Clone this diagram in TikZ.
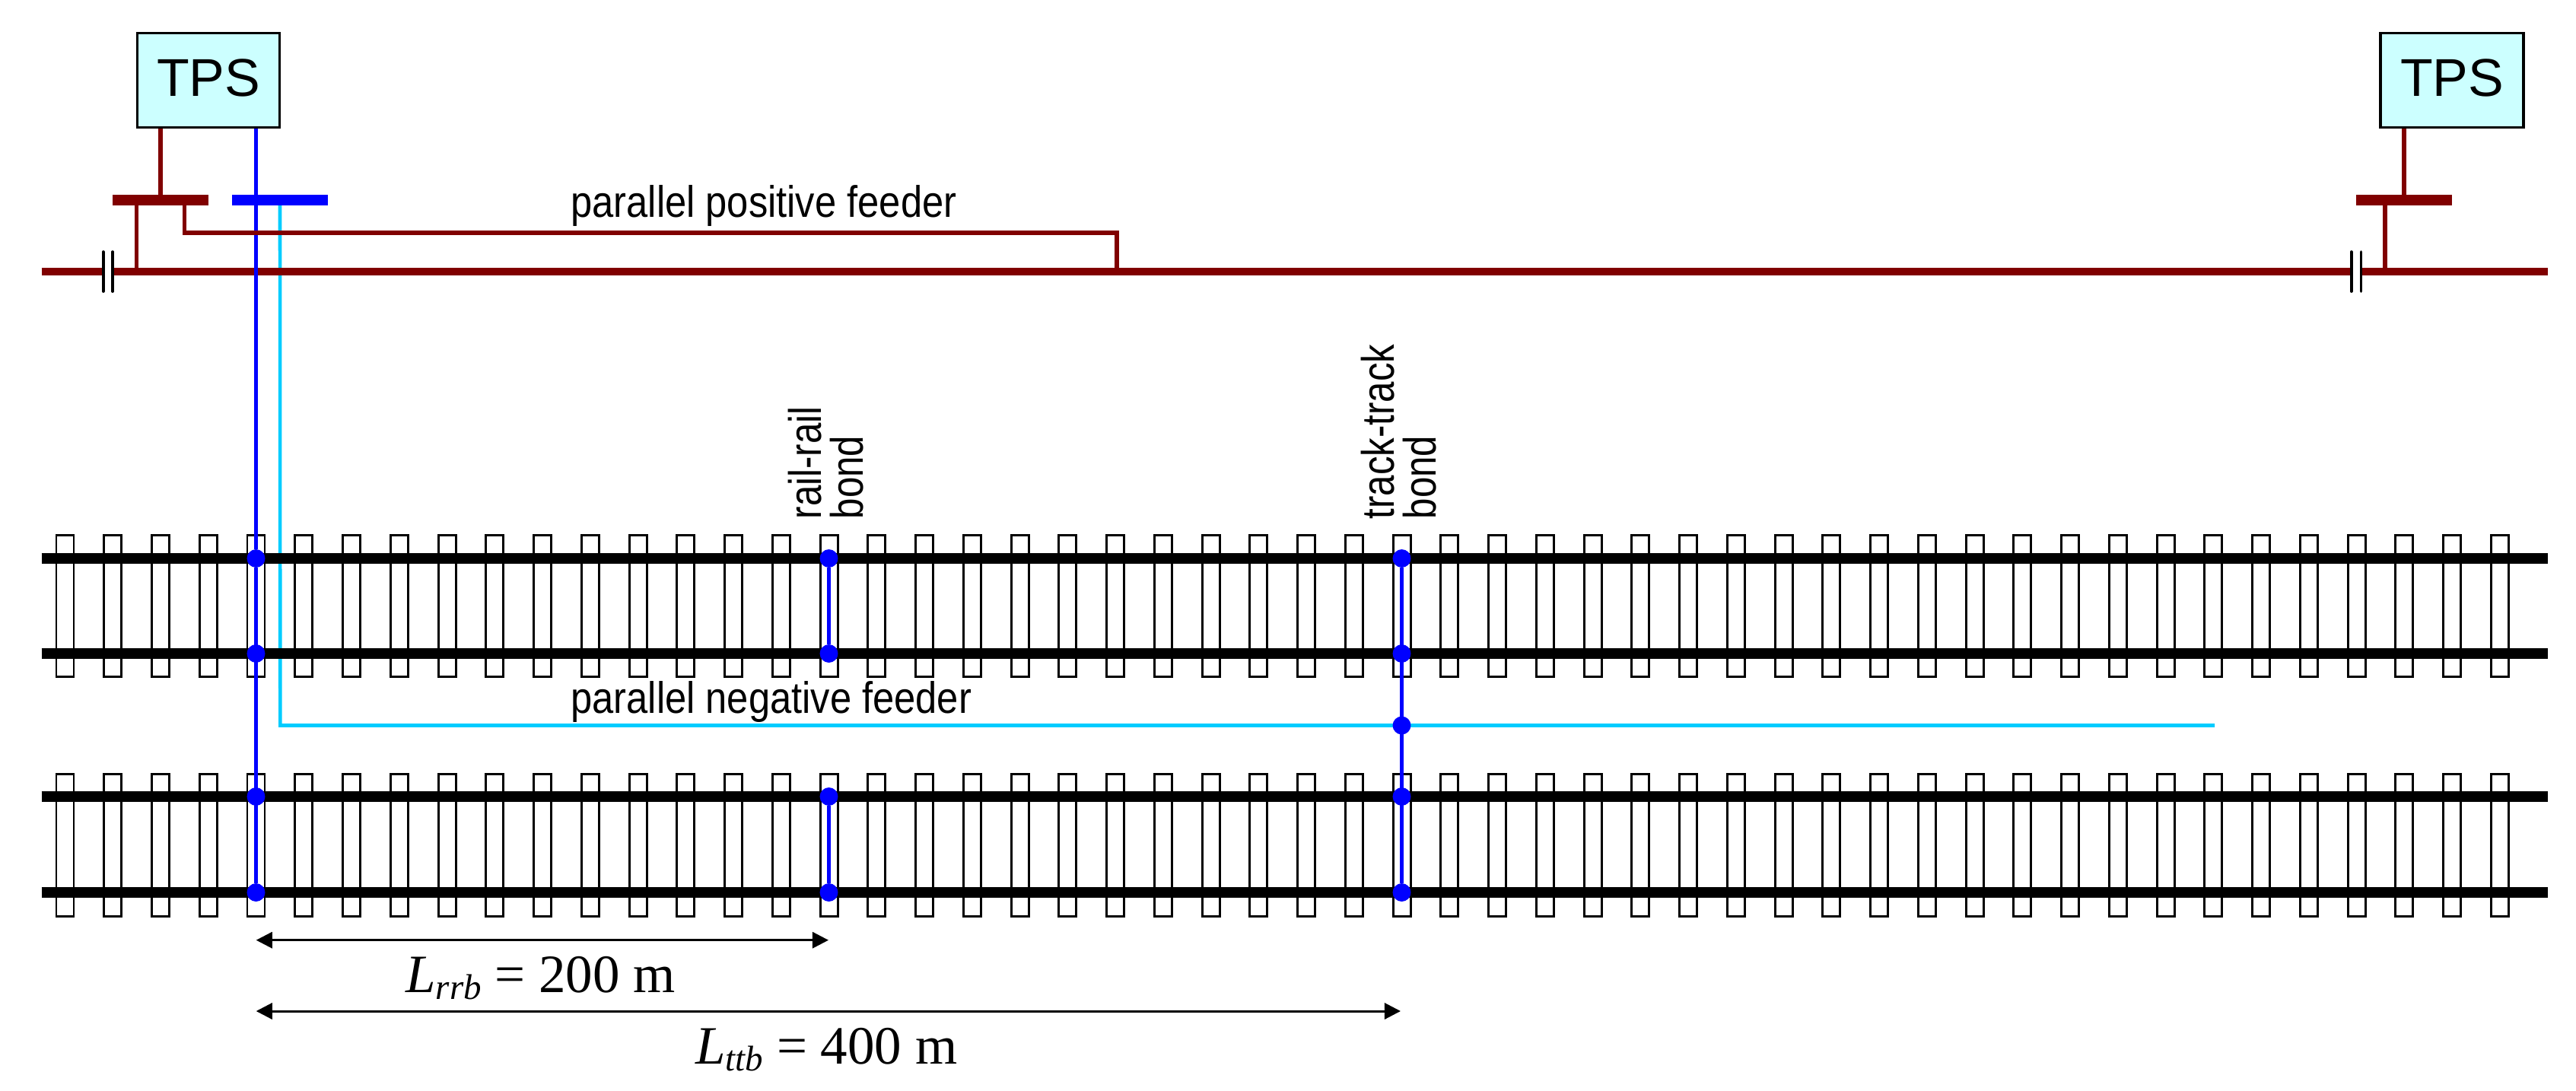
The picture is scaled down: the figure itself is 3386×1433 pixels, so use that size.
\documentclass[tikz,border=0pt]{standalone}
\usepackage{fontspec}
\setmainfont{Liberation Serif}
\newfontfamily\boxfont{Liberation Sans}
\newfontfamily\feederfont[FakeStretch=0.874]{Liberation Sans}
\newfontfamily\bondfont[FakeStretch=0.822]{Liberation Sans}
\usetikzlibrary{arrows.meta}
\definecolor{feedred}{HTML}{800000}
\definecolor{negblue}{HTML}{0000FF}
\definecolor{negcyan}{HTML}{00CCFF}
\definecolor{tpsfill}{HTML}{CCFFFF}
\newcommand{\lensym}[1]{\textit{L}\raisebox{-5.5pt}{\fontsize{26.7}{30}\selectfont\textit{#1}}}
\tikzset{
	tpsbox/.style={draw=black,line width=2pt,fill=tpsfill,minimum height=70.6pt,inner sep=0pt,text depth=4pt,font=\boxfont\fontsize{39.8}{44}\selectfont},
	busbar/.style={minimum width=71.4pt,minimum height=8pt,inner sep=0pt,outer sep=0pt},
	bonddot/.style={circle,fill=negblue,minimum size=13.6pt,inner sep=0pt,outer sep=0pt},
	sleeper/.style={draw=black,line width=1.7pt},
	rail/.style={draw=black,line width=8pt},
	mainline/.style={draw=feedred,line width=5.7pt},
	stub/.style={draw=feedred,line width=2.9pt,line join=miter},
	negline/.style={draw=negblue,line width=2.6pt},
	cyanline/.style={draw=negcyan,line width=2.6pt,line join=miter},
	capline/.style={draw=black,line width=2.1pt,line cap=round},
	dimline/.style={draw=black,line width=1.7pt,<->},
	feederlabel/.style={anchor=base west,inner sep=0pt,font=\feederfont\fontsize{33}{36}\selectfont},
	bondlabel/.style={anchor=south west,rotate=90,align=left,inner sep=0pt,font=\bondfont\fontsize{34.1}{31.3}\selectfont},
	dimlabel/.style={anchor=base west,inner sep=0pt,font=\fontsize{40.4}{44}\selectfont}
}
\begin{document}
\begin{tikzpicture}[line cap=butt,>={Triangle[length=12pt,width=12pt]},x=0.02cm,y=-0.02cm]
	\useasboundingbox (0,0) rectangle (3386,1433);
	\foreach \i in {0,...,51} {
		\draw[sleeper] ({85.5+\i*62.75-11.5},703.3) rectangle ({85.5+\i*62.75+11.5},889);
		\draw[sleeper] ({85.5+\i*62.75-11.5},1017.3) rectangle ({85.5+\i*62.75+11.5},1204);
	}
	\node[tpsbox,minimum width=106.4pt] (tpsL) at (274,105.5) {TPS};
	\node[tpsbox,minimum width=107pt] (tpsR) at (3223,105.5) {TPS};
	\node[busbar,fill=feedred] (busL) at (211,263) {};
	\node[busbar,fill=negblue] (busN) at (368,263) {};
	\node[busbar,fill=feedred] (busR) at (3160,263) {};
	\coordinate (railAL) at (54.5,734);
	\coordinate (railAR) at (3348.6,734);
	\coordinate (railBL) at (54.5,859);
	\coordinate (railBR) at (3348.6,859);
	\coordinate (railCL) at (54.5,1047);
	\coordinate (railCR) at (3348.6,1047);
	\coordinate (railDL) at (54.5,1173);
	\coordinate (railDR) at (3348.6,1173);
	\coordinate (cyanA) at (368.3,953.5);
	\coordinate (cyanB) at (2911,953.5);
	\draw[cyanline] (busN) -- (cyanA) -- (cyanB);
	\draw[rail] (railAL) -- (railAR);
	\draw[rail] (railBL) -- (railBR);
	\draw[rail] (railCL) -- (railCR);
	\draw[rail] (railDL) -- (railDR);
	\coordinate (mainL) at (54.5,357);
	\coordinate (capA1) at (135.7,357);
	\coordinate (capA2) at (148,357);
	\coordinate (capB1) at (3090.7,357);
	\coordinate (capB2) at (3103.4,357);
	\coordinate (mainR) at (3348.6,357);
	\draw[mainline] (mainL) -- (capA1);
	\draw[mainline] (capA2) -- (capB1);
	\draw[mainline] (capB2) -- (mainR);
	\draw[capline] ([yshift=-14.8pt]capA1) -- ([yshift=14.8pt]capA1);
	\draw[capline] ([yshift=-14.8pt]capA2) -- ([yshift=14.8pt]capA2);
	\draw[capline] ([yshift=-14.8pt]capB1) -- ([yshift=14.8pt]capB1);
	\draw[capline] ([yshift=-14.8pt]capB2) -- ([yshift=14.8pt]capB2);
	\node[bonddot] (bondA1) at (336.5,734) {};
	\node[bonddot] (bondA2) at (336.5,859) {};
	\node[bonddot] (bondA3) at (336.5,1047) {};
	\node[bonddot] (bondA4) at (336.5,1173) {};
	\node[bonddot] (bondB1) at (1089.5,734) {};
	\node[bonddot] (bondB2) at (1089.5,859) {};
	\node[bonddot] (bondB3) at (1089.5,1047) {};
	\node[bonddot] (bondB4) at (1089.5,1173) {};
	\node[bonddot] (bondC1) at (1842.5,734) {};
	\node[bonddot] (bondC2) at (1842.5,859) {};
	\node[bonddot] (bondCn) at (1842.5,953.5) {};
	\node[bonddot] (bondC3) at (1842.5,1047) {};
	\node[bonddot] (bondC4) at (1842.5,1173) {};
	\draw[negline] (bondA1 |- tpsL.south) -- (bondA1);
	\draw[negline] (bondA1) -- (bondA4);
	\draw[negline] (bondB1) -- (bondB2);
	\draw[negline] (bondB3) -- (bondB4);
	\draw[negline] (bondC1) -- (bondC4);
	\coordinate (dropL) at (179.5,357);
	\coordinate (dropR) at (3135,357);
	\coordinate (posA) at (242.4,263);
	\coordinate (posB) at (242.4,306);
	\coordinate (posC) at (1468,306);
	\coordinate (posD) at (1468,357);
	\draw[stub] (busL |- tpsL.south) -- (busL);
	\draw[stub] (busR |- tpsR.south) -- (busR);
	\draw[stub] (dropL |- busL) -- (dropL);
	\draw[stub] (dropR |- busR) -- (dropR);
	\draw[stub] (posA) -- (posB) -- (posC) -- (posD);
	\node[feederlabel] (posfeeder) at (750,285) {parallel positive feeder};
	\node[feederlabel] (negfeeder) at (750,937) {parallel negative feeder};
	\node[bondlabel] (rrbond) at (1135,682.6) {rail-rail\\bond};
	\node[bondlabel] (ttbond) at (1888,682.6) {track-track\\bond};
	\coordinate (dimA) at (336.7,1235.7);
	\coordinate (dimB) at (1089,1235.7);
	\coordinate (dimC) at (336.7,1329);
	\coordinate (dimD) at (1841,1329);
	\draw[dimline] (dimA) -- (dimB);
	\draw[dimline] (dimC) -- (dimD);
	\node[dimlabel] (lrrb) at (533,1304) {\lensym{rrb} = 200 m};
	\node[dimlabel] (lttb) at (914,1398) {\lensym{ttb} = 400 m};
\end{tikzpicture}
\end{document}
